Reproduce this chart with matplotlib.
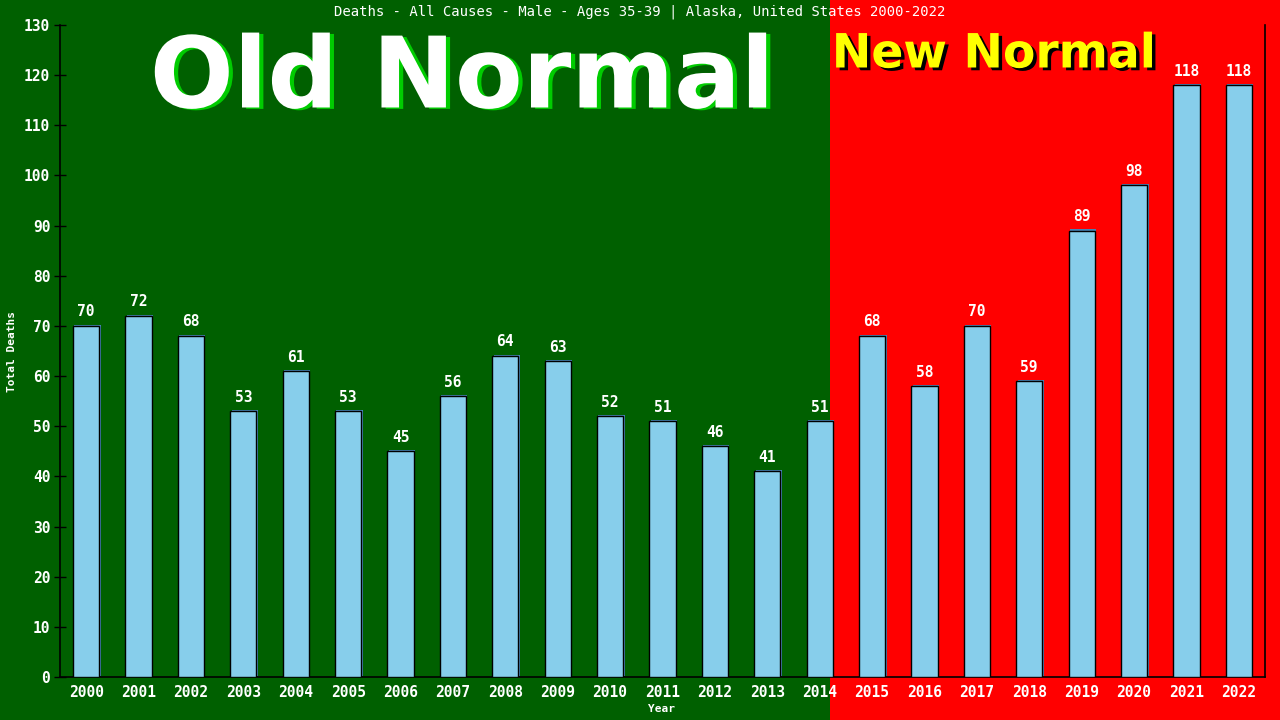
import matplotlib
matplotlib.use("Agg")
import matplotlib.pyplot as plt
from matplotlib.patches import Rectangle
import matplotlib.patheffects as pe

years = [str(y) for y in range(2000, 2023)]
deaths = [70, 72, 68, 53, 61, 53, 45, 56, 64, 63, 52, 51, 46, 41, 51,
          68, 58, 70, 59, 89, 98, 118, 118]
title = "Deaths - All Causes - Male - Ages 35-39 | Alaska, United States 2000-2022"
yticks = list(range(0, 131, 10))

W, H = 1280, 720
fig = plt.figure(figsize=(12.8, 7.2), dpi=100)
split = 830 / W
fig.patches.append(Rectangle((0, 0), split, 1, transform=fig.transFigure,
                             facecolor="#006000", edgecolor="none", zorder=-10))
fig.patches.append(Rectangle((split, 0), 1 - split, 1, transform=fig.transFigure,
                             facecolor="#FF0000", edgecolor="none", zorder=-10))

ax = fig.add_axes([60 / W, 43 / H, 1205 / W, 652 / H])
ax.set_facecolor("none")
x = list(range(len(years)))
bars = ax.bar(x, deaths, width=0.5, color="#87CEEB", edgecolor="black", linewidth=1.0, zorder=3)
for b in bars:
    b.set_path_effects([pe.SimplePatchShadow(offset=(1.0, 1.0), shadow_rgbFace="#4682B4", alpha=1.0),
                        pe.Normal()])
for xi, v in zip(x, deaths):
    ax.text(xi, v + 1.3, str(v), ha="center", va="bottom", color="white",
            fontsize=10.5, fontweight="bold", family="DejaVu Sans Mono", zorder=4)

ax.set_xlim(-0.5, 22.5)
ax.set_ylim(0, 130)
ax.set_xticks(x)
ax.set_xticklabels(years, family="DejaVu Sans Mono", fontsize=10.5, fontweight="bold", color="white")
ax.set_yticks(yticks)
ax.set_yticklabels([str(t) for t in yticks], family="DejaVu Sans Mono", fontsize=10.5,
                   fontweight="bold", color="white")
ax.tick_params(axis="y", colors="black", length=8, width=1, direction="inout",
               labelcolor="white", pad=3)
ax.tick_params(axis="x", length=0, pad=6, labelcolor="white")
for s in ["left", "bottom", "right"]:
    ax.spines[s].set_color("black")
    ax.spines[s].set_linewidth(1.2)
ax.spines["top"].set_visible(False)

fig.text(640 / W, 1 - 12 / H, title, ha="center", va="center", color="white",
         fontsize=10, family="DejaVu Sans Mono")
fig.text(12 / W, 1 - 352 / H, "Total Deaths", rotation=90, ha="center", va="center",
         color="white", fontsize=8, fontweight="bold", family="DejaVu Sans Mono")
fig.text(661 / W, 1 - 709 / H, "Year", ha="center", va="center",
         color="white", fontsize=8, fontweight="bold", family="DejaVu Sans Mono")

fig.text(462 / W, 1 - 80 / H, "Old Normal", ha="center", va="center", color="white",
         fontsize=71, fontweight="bold", family="DejaVu Sans",
         path_effects=[pe.withSimplePatchShadow(offset=(3, -1), shadow_rgbFace="#00CC00", alpha=1.0)])
fig.text(994 / W, 1 - 55 / H, "New Normal", ha="center", va="center", color="#FFFF00",
         fontsize=34, fontweight="bold", family="DejaVu Sans",
         path_effects=[pe.withSimplePatchShadow(offset=(2.5, -2), shadow_rgbFace="black", alpha=1.0)])

fig.savefig("out.png", dpi=100)
